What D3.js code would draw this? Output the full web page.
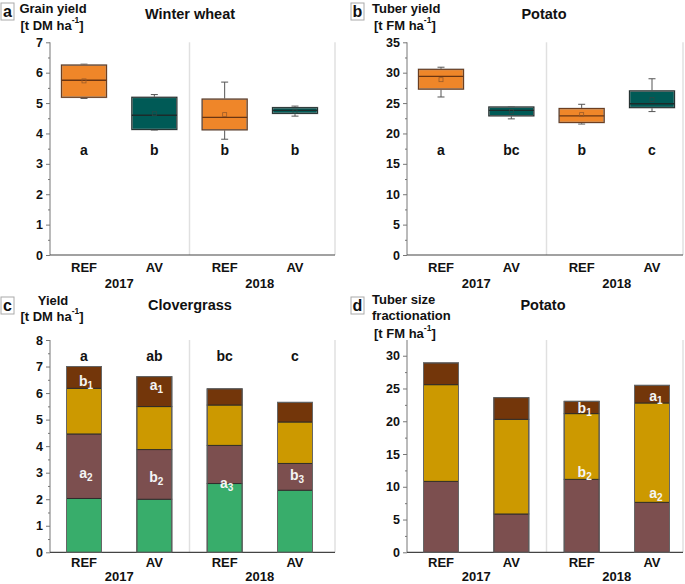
<!DOCTYPE html>
<html><head><meta charset="utf-8">
<script src="https://cdn.jsdelivr.net/npm/d3@7"></script>
<style>
html,body{margin:0;padding:0;background:#fff;}
text{font-family:"Liberation Sans",Arial,sans-serif;font-weight:bold;}
</style></head>
<body><svg id="c" width="685" height="584"></svg>
<script>
// ---------- data ----------
const treatments = ["REF", "AV", "REF", "AV"];
const categories = ["REF 2017", "AV 2017", "REF 2018", "AV 2018"];
const years = ["2017", "2018"];

// (a) Winter wheat grain yield [t DM/ha] box plots
const wheatMin    = [5.15, 4.11, 3.81, 4.57];
const wheatQ1     = [5.19, 4.13, 4.12, 4.66];
const wheatMedian = [5.75, 4.60, 4.53, 4.76];
const wheatQ3     = [6.25, 5.19, 5.13, 4.85];
const wheatMax    = [6.28, 5.28, 5.69, 4.90];
const wheatMean   = [5.73, 4.65, 4.62, 4.73];
const wheatLetters = ["a", "b", "b", "b"];

// (b) Potato tuber yield [t FM/ha] box plots
const potatoMin    = [26.0, 22.4, 21.55, 23.6];
const potatoQ1     = [27.3, 22.9, 21.8, 24.25];
const potatoMedian = [29.4, 23.8, 22.9, 24.9];
const potatoQ3     = [30.55, 24.35, 24.1, 27.0];
const potatoMax    = [30.9, 24.4, 24.8, 29.0];
const potatoMean   = [28.85, 23.6, 23.1, 25.6];
const potatoLetters = ["a", "bc", "b", "c"];

// (c) Clovergrass yield per cut [t DM/ha]
const cloverCut1 = [2.03, 2.00, 2.59, 2.34];
const cloverCut2 = [2.43, 1.87, 1.44, 1.01];
const cloverCut3 = [1.72, 1.62, 1.52, 1.56];
const cloverCut4 = [0.82, 1.13, 0.61, 0.74];
const cloverLetters = ["a", "ab", "bc", "c"];
const cloverSubLabels = [["b","1"], ["a","2"], ["a","1"], ["b","2"], ["a","3"], ["b","3"]];
const cloverSubCats   = [0, 0, 1, 1, 2, 3];
const cloverSubValues = [6.44, 3.0, 6.3, 2.85, 2.63, 2.91];

// (d) Potato tuber size fractionation [t FM/ha]
const sizeSmall  = [10.83, 5.85, 11.14, 7.63];
const sizeMedium = [14.75, 14.45, 10.02, 15.16];
const sizeLarge  = [3.32, 3.30, 1.88, 2.69];
const sizeSubLabels = [["b","1"], ["b","2"], ["a","1"], ["a","2"]];
const sizeSubCats   = [2, 2, 3, 3];
const sizeSubValues = [21.97, 12.2, 23.85, 9.0];

// ---------- drawing ----------
const svg = d3.select("#c");
const ORANGE = "#ef8629", TEAL = "#005a56";
const GREEN = "#38ad6b", MAROON = "#7c4f4f", GOLD = "#cc9900", BROWN = "#73360a";

function panel(opt) {
  const g = svg.append("g");
  const x = d3.scalePoint().domain(categories).range([opt.x0 + 34, opt.x0 + 245]);
  const y = d3.scaleLinear().domain([0, opt.ymax]).range([opt.y0, opt.ytop]);
  const sepX = (x(categories[1]) + x(categories[2])) / 2;
  g.append("line").attr("x1", sepX).attr("x2", sepX).attr("y1", opt.ytop).attr("y2", opt.y0)
    .attr("stroke", "#e0e0e0").attr("stroke-width", 1.5);
  g.append("line").attr("x1", opt.x1).attr("x2", opt.x1).attr("y1", opt.ytop).attr("y2", opt.y0)
    .attr("stroke", "#e0e0e0").attr("stroke-width", 1.5);
  const minor = d3.axisLeft(y).tickValues(opt.minor).tickSize(2).tickFormat("");
  const gm = g.append("g").attr("transform", `translate(${opt.x0},0)`).call(minor);
  gm.select(".domain").remove();
  gm.selectAll("line").attr("stroke", "#777");
  const ax = d3.axisLeft(y).tickValues(opt.ticks).tickFormat(d3.format("d"))
    .tickSize(4).tickPadding(3).tickSizeOuter(0);
  const ga = g.append("g").attr("transform", `translate(${opt.x0},0)`).call(ax);
  ga.select(".domain").attr("stroke", "#777").attr("d", `M0,${opt.ytop}V${opt.y0}`);
  ga.selectAll("line").attr("stroke", "#777");
  ga.selectAll("text").attr("font-size", 12.5).attr("font-weight", "bold").attr("fill", "#111")
    .attr("font-family", '"Liberation Sans",Arial,sans-serif');
  g.append("line").attr("x1", opt.x0).attr("x2", opt.x1).attr("y1", opt.y0).attr("y2", opt.y0)
    .attr("stroke", "#444").attr("stroke-width", 1.2);
  g.selectAll(".cat").data(categories).enter().append("text")
    .attr("x", d => x(d)).attr("y", opt.y0 + opt.catDy).attr("text-anchor", "middle")
    .attr("dominant-baseline", "central").attr("font-size", 13).attr("fill", "#111")
    .text((d, i) => treatments[i]);
  years.forEach((yr, i) => {
    const cx = (x(categories[2 * i]) + x(categories[2 * i + 1])) / 2;
    g.append("text").attr("x", cx).attr("y", opt.y0 + opt.yearDy).attr("text-anchor", "middle")
      .attr("dominant-baseline", "central").attr("font-size", 13).attr("fill", "#111").text(yr);
  });
  g.append("text").attr("x", opt.titleX).attr("y", opt.titleY).attr("text-anchor", "middle")
    .attr("dominant-baseline", "central").attr("font-size", 14.5).attr("fill", "#111").text(opt.title);
  g.append("rect").attr("x", opt.letterX).attr("y", opt.letterY).attr("width", 13).attr("height", 17)
    .attr("fill", "#fff").attr("stroke", "#aaa").attr("stroke-width", 1);
  g.append("text").attr("x", opt.letterX + 6.5).attr("y", opt.letterY + 8.5).attr("text-anchor", "middle")
    .attr("dominant-baseline", "central").attr("font-size", 16).attr("fill", "#111").text(opt.letter);
  opt.ylab.forEach(l => {
    const t = g.append("text").attr("x", l.x).attr("y", l.y).attr("text-anchor", l.anchor)
      .attr("dominant-baseline", "central").attr("font-size", 13).attr("fill", "#111");
    if (l.sup) {
      t.append("tspan").text(l.t);
      t.append("tspan").attr("font-size", 8.5).attr("dy", -5).text("-1");
      t.append("tspan").attr("dy", 5).text("]");
    } else t.text(l.t);
  });
  return {g, x, y};
}

function boxes(p, mins, q1, med, q3, maxs, means, letters, letterVal) {
  const {g, x, y} = p;
  const w = 45;
  categories.forEach((c, i) => {
    const cx = x(c);
    const fill = i % 2 === 0 ? ORANGE : TEAL;
    const stroke = i % 2 === 0 ? "#6a3512" : "#1c2b2a";
    g.append("line").attr("x1", cx).attr("x2", cx).attr("y1", y(maxs[i])).attr("y2", y(q3[i])).attr("stroke", "#555");
    g.append("line").attr("x1", cx).attr("x2", cx).attr("y1", y(q1[i])).attr("y2", y(mins[i])).attr("stroke", "#555");
    [mins[i], maxs[i]].forEach(v => g.append("line").attr("x1", cx - 3.5).attr("x2", cx + 3.5)
      .attr("y1", y(v)).attr("y2", y(v)).attr("stroke", "#555"));
    g.append("rect").attr("x", cx - w / 2).attr("y", y(q3[i])).attr("width", w)
      .attr("height", y(q1[i]) - y(q3[i])).attr("fill", fill).attr("stroke", "#999").attr("stroke-width", 1.6);
    g.append("rect").attr("x", cx - w / 2).attr("y", y(q3[i])).attr("width", w)
      .attr("height", y(q1[i]) - y(q3[i])).attr("fill", "none").attr("stroke", stroke).attr("stroke-width", 0.9);
    g.append("line").attr("x1", cx - w / 2).attr("x2", cx + w / 2).attr("y1", y(med[i])).attr("y2", y(med[i]))
      .attr("stroke", stroke).attr("stroke-width", 1.4);
    g.append("rect").attr("x", cx - 2).attr("y", y(means[i]) - 2).attr("width", 4).attr("height", 4)
      .attr("fill", "none").attr("stroke", i % 2 === 0 ? "#9a5a28" : "#2a4a48").attr("stroke-width", 0.8);
    g.append("text").attr("x", cx).attr("y", y(letterVal)).attr("text-anchor", "middle")
      .attr("dominant-baseline", "central").attr("font-size", 14).attr("fill", "#111").text(letters[i]);
  });
}

function stacks(p, layers, colors) {
  const {g, x, y} = p;
  const rows = categories.map((c, i) => {
    const o = {cat: c};
    layers.forEach((l, k) => o["k" + k] = l[i]);
    return o;
  });
  const keys = layers.map((l, k) => "k" + k);
  const series = d3.stack().keys(keys)(rows);
  const w = 35;
  series.forEach((s, k) => {
    g.selectAll(null).data(s).enter().append("rect")
      .attr("x", d => x(d.data.cat) - w / 2).attr("y", d => y(d[1]))
      .attr("width", w).attr("height", d => y(d[0]) - y(d[1]))
      .attr("fill", colors[k]).attr("stroke", "#2a2a2a").attr("stroke-width", 0.9);
  });
  const top = series[series.length - 1];
  g.selectAll(null).data(top).enter().append("rect")
    .attr("x", d => x(d.data.cat) - w / 2).attr("y", d => y(d[1])).attr("width", w)
    .attr("height", d => y(0) - y(d[1])).attr("fill", "none").attr("stroke", "#666").attr("stroke-width", 1);
}

function subLabels(p, labels, cats, vals, dx) {
  const {g, x, y} = p;
  labels.forEach((l, i) => {
    const t = g.append("text").attr("x", x(categories[cats[i]]) + dx[i]).attr("y", y(vals[i]))
      .attr("text-anchor", "middle").attr("dominant-baseline", "central")
      .attr("font-size", 14).attr("fill", "#f4f4f4");
    t.append("tspan").text(l[0]);
    t.append("tspan").attr("font-size", 10).attr("dy", 4).text(l[1]);
  });
}

// Panel a
const pa = panel({x0: 50, x1: 335, y0: 255, ytop: 42.3, ymax: 7,
  ticks: d3.range(0, 8, 1), minor: d3.range(0.5, 7, 1), catDy: 12, yearDy: 28,
  title: "Winter wheat", titleX: 190, titleY: 14, letter: "a", letterX: 1, letterY: 3,
  ylab: [{t: "Grain yield", x: 53, y: 8, anchor: "middle"}, {t: "[t DM ha", x: 52, y: 25, anchor: "middle", sup: true}]});
boxes(pa, wheatMin, wheatQ1, wheatMedian, wheatQ3, wheatMax, wheatMean, wheatLetters, 3.45);

// Panel b
const pb = panel({x0: 407, x1: 683, y0: 255, ytop: 42.3, ymax: 35,
  ticks: d3.range(0, 40, 5), minor: d3.range(2.5, 35, 5), catDy: 12, yearDy: 28,
  title: "Potato", titleX: 544, titleY: 14, letter: "b", letterX: 351, letterY: 3,
  ylab: [{t: "Tuber yield", x: 372, y: 8, anchor: "start"}, {t: "[t FM ha", x: 374, y: 25, anchor: "start", sup: true}]});
boxes(pb, potatoMin, potatoQ1, potatoMedian, potatoQ3, potatoMax, potatoMean, potatoLetters, 17.2);

// Panel c
const pc = panel({x0: 50, x1: 335, y0: 552.3, ytop: 340, ymax: 8,
  ticks: d3.range(0, 9, 1), minor: d3.range(0.5, 8, 1), catDy: 10.5, yearDy: 24.5,
  title: "Clovergrass", titleX: 190, titleY: 305, letter: "c", letterX: 1, letterY: 297,
  ylab: [{t: "Yield", x: 53, y: 300, anchor: "middle"}, {t: "[t DM ha", x: 52, y: 316, anchor: "middle", sup: true}]});
stacks(pc, [cloverCut1, cloverCut2, cloverCut3, cloverCut4], [GREEN, MAROON, GOLD, BROWN]);
subLabels(pc, cloverSubLabels, cloverSubCats, cloverSubValues, [2, 2, 2, 2, 2, 2]);
pc.g.selectAll(".lt").data(cloverLetters).enter().append("text")
  .attr("x", (d, i) => pc.x(categories[i])).attr("y", pc.y(7.41)).attr("text-anchor", "middle")
  .attr("dominant-baseline", "central").attr("font-size", 14).attr("fill", "#111").text(d => d);

// Panel d
const pd = panel({x0: 407, x1: 683, y0: 552.3, ytop: 340, ymax: 32.4,
  ticks: d3.range(0, 35, 5), minor: d3.range(2.5, 32, 5), catDy: 10.5, yearDy: 24.5,
  title: "Potato", titleX: 543, titleY: 305, letter: "d", letterX: 351, letterY: 297,
  ylab: [{t: "Tuber size", x: 372, y: 299, anchor: "start"}, {t: "fractionation", x: 372, y: 315, anchor: "start"},
         {t: "[t FM ha", x: 374, y: 333, anchor: "start", sup: true}]});
stacks(pd, [sizeSmall, sizeMedium, sizeLarge], [MAROON, GOLD, BROWN]);
subLabels(pd, sizeSubLabels, sizeSubCats, sizeSubValues, [3, 3, 4, 4]);
</script></body></html>
